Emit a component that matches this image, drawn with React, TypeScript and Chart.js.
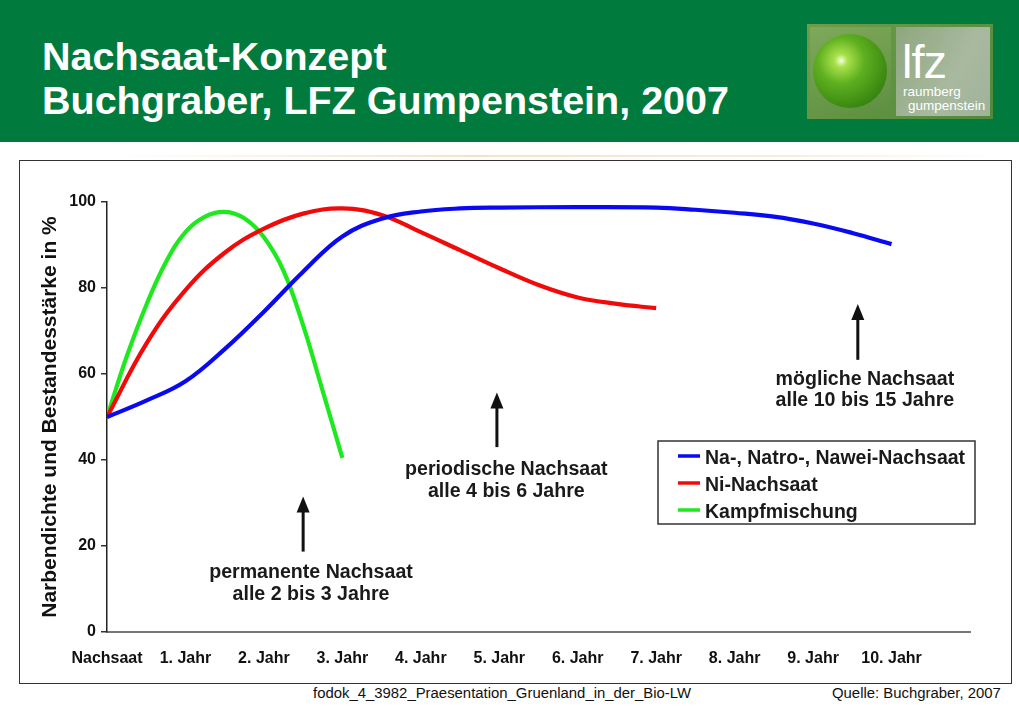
import React, { useEffect, useRef } from "react";
import { Chart, registerables } from "chart.js";
Chart.register(...registerables);

// ---- data ----
const xTickLabels = ["Nachsaat", "1. Jahr", "2. Jahr", "3. Jahr", "4. Jahr", "5. Jahr", "6. Jahr", "7. Jahr", "8. Jahr", "9. Jahr", "10. Jahr"];
const yTickValues = [0, 20, 40, 60, 80, 100];

const seriesLabels = ["Na-, Natro-, Nawei-Nachsaat", "Ni-Nachsaat", "Kampfmischung"];
const seriesColors = ["#0a0af0", "#f00a0a", "#1ee81e"];

const blueX = [0, 0.5, 1, 1.5, 2, 2.5, 3, 3.5, 4, 4.5, 5, 6, 7, 7.5, 8, 8.5, 9, 9.5, 10];
const blueY = [50, 53.8, 58.3, 65.8, 74.5, 83.8, 92, 96.1, 97.8, 98.5, 98.7, 98.8, 98.7, 98.2, 97.5, 96.6, 95, 92.8, 90.2];

const redX = [0, 0.5, 1, 1.5, 2, 2.5, 3, 3.5, 4, 4.5, 5, 5.5, 6, 6.5, 7];
const redY = [50, 67, 79.5, 88.2, 93.8, 97.3, 98.5, 97, 93, 88.8, 84.6, 80.7, 77.8, 76.3, 75.3];

const greenX = [0, 0.25, 0.5, 0.75, 1, 1.25, 1.5, 1.75, 2, 2.25, 2.5, 2.75, 3];
const greenY = [50, 64, 76, 86, 93, 96.6, 97.7, 96.2, 91.8, 84, 71.3, 56, 40.5];

// annotations (data coordinates)
const noteLines = [
  ["permanente Nachsaat", "alle 2 bis 3 Jahre"],
  ["periodische Nachsaat", "alle 4 bis 6 Jahre"],
  ["mögliche Nachsaat", "alle 10 bis 15 Jahre"],
];
const noteX = [2.6, 5.09, 9.66];
const noteY1 = [13.9, 37.7, 58.8];
const noteY2 = [8.6, 32.6, 53.7];
const arrowX = [2.5, 4.97, 9.57];
const arrowFrom = [18.7, 43, 63.3];
const arrowTo = [31.5, 55.7, 76.3];

const FONT = "Arial, 'Liberation Sans', Helvetica, sans-serif";

const overlayPlugin = {
  id: "overlay",
  afterDatasetsDraw(chart: any) {
    const { ctx, scales } = chart;
    const xs = scales.x;
    const ys = scales.y;
    ctx.save();
    // arrows
    ctx.fillStyle = "#111";
    ctx.strokeStyle = "#111";
    arrowX.forEach((ax, i) => {
      const px = xs.getPixelForValue(ax);
      const pb = ys.getPixelForValue(arrowFrom[i]);
      const pt = ys.getPixelForValue(arrowTo[i]);
      ctx.lineWidth = 3;
      ctx.beginPath();
      ctx.moveTo(px, pb);
      ctx.lineTo(px, pt + 12);
      ctx.stroke();
      ctx.beginPath();
      ctx.moveTo(px, pt);
      ctx.lineTo(px - 6.5, pt + 16);
      ctx.lineTo(px + 6.5, pt + 16);
      ctx.closePath();
      ctx.fill();
    });
    // notes
    ctx.font = `bold 19.6px ${FONT}`;
    ctx.textAlign = "center";
    ctx.textBaseline = "middle";
    ctx.fillStyle = "#1a1a1a";
    noteLines.forEach((lines, i) => {
      const px = xs.getPixelForValue(noteX[i]);
      ctx.fillText(lines[0], px, ys.getPixelForValue(noteY1[i]));
      ctx.fillText(lines[1], px, ys.getPixelForValue(noteY2[i]));
    });
    // legend box
    const bx = 638, by = 280, bw = 317, bh = 83;
    ctx.fillStyle = "#fff";
    ctx.fillRect(bx, by, bw, bh);
    ctx.lineWidth = 1.5;
    ctx.strokeStyle = "#333";
    ctx.strokeRect(bx, by, bw, bh);
    ctx.font = `bold 19.5px ${FONT}`;
    ctx.textAlign = "left";
    seriesLabels.forEach((lab, i) => {
      const rowY = by + 17 + i * 27;
      ctx.strokeStyle = seriesColors[i];
      ctx.lineWidth = 3.5;
      ctx.beginPath();
      ctx.moveTo(bx + 20, rowY - 2);
      ctx.lineTo(bx + 42, rowY - 2);
      ctx.stroke();
      ctx.fillStyle = "#1a1a1a";
      ctx.fillText(lab, bx + 47, rowY + 1);
    });
    ctx.restore();
  },
};

function ChartCanvas() {
  const ref = useRef<HTMLCanvasElement | null>(null);
  useEffect(() => {
    if (!ref.current) return;
    const mk = (xa: number[], ya: number[]) => xa.map((v, i) => ({ x: v, y: ya[i] }));
    const datasets = [mk(blueX, blueY), mk(redX, redY), mk(greenX, greenY)].map((d, i) => ({
      label: seriesLabels[i],
      data: d,
      borderColor: seriesColors[i],
      backgroundColor: seriesColors[i],
      borderWidth: 4.2,
      pointRadius: 0,
      tension: 0.4,
      fill: false,
    }));
    const chart = new Chart(ref.current, {
      type: "line",
      data: { datasets },
      options: {
        animation: false,
        responsive: false,
        maintainAspectRatio: false,
        devicePixelRatio: 1,
        layout: { padding: { left: 0, right: 40, top: 41, bottom: 0 } },
        plugins: { legend: { display: false }, tooltip: { enabled: false } },
        scales: {
          x: {
            type: "linear",
            min: 0,
            max: 11,
            afterFit: (s: any) => { s.height = 50; },
            afterBuildTicks: (s: any) => { s.ticks = xTickLabels.map((_, i) => ({ value: i })).concat([{ value: 11 }]); },
            ticks: {
              autoSkip: false,
              maxRotation: 0,
              padding: 17,
              color: "#111",
              font: { family: FONT, size: 16, weight: "bold" },
              callback: (v: any) => (xTickLabels[v] !== undefined ? xTickLabels[v] : ""),
            },
            grid: { display: true, drawOnChartArea: false, drawTicks: false },
            border: { display: true, color: "#777", width: 2 },
          },
          y: {
            min: 0,
            max: 100,
            afterFit: (s: any) => { s.width = 87; },
            afterBuildTicks: (s: any) => { s.ticks = yTickValues.map((v) => ({ value: v })); },
            ticks: {
              padding: 5,
              color: "#111",
              font: { family: FONT, size: 16, weight: "bold" },
            },
            grid: { display: true, drawOnChartArea: false, drawTicks: true, tickLength: 6, color: "#333", lineWidth: 1.5 },
            border: { display: true, color: "#222", width: 1.5 },
            title: {
              display: true,
              text: "Narbendichte und Bestandesstärke in %",
              color: "#111",
              font: { family: FONT, size: 21, weight: "bold" },
              padding: { top: 18, bottom: 0 },
            },
          },
        },
      },
      plugins: [overlayPlugin],
    });
    return () => chart.destroy();
  }, []);
  return (
    <canvas
      ref={ref}
      width={990}
      height={521}
      style={{ position: "absolute", left: 20, top: 161, width: 990, height: 521 }}
    />
  );
}

function Logo() {
  return (
    <div style={{ position: "absolute", left: 807, top: 24, width: 186, height: 95, background: "linear-gradient(135deg,#6f9c4a,#4f8a3a)" }}>
      <div style={{ position: "absolute", left: 3, top: 3, width: 81, height: 89, background: "linear-gradient(160deg,#7fa85a,#5d8f40)" }}>
        <div style={{
          position: "absolute", left: 3, top: 7, width: 74, height: 74, borderRadius: "50%",
          background: "radial-gradient(circle at 38% 36%, #f4ffe0 0%, #a8e04a 10%, #5fb020 35%, #3c8a12 70%, #2a6a0c 100%)",
        }} />
      </div>
      <div style={{ position: "absolute", left: 89, top: 3, width: 94, height: 89, background: "linear-gradient(120deg,#8ea77e,#a9b9a0 60%,#9fb29a)" }}>
        <div style={{ position: "absolute", left: 6, top: 11, color: "#fff", fontFamily: FONT, fontSize: 47, lineHeight: "47px", letterSpacing: -1 }}>lfz</div>
        <div style={{ position: "absolute", left: 7, top: 58, color: "#fff", fontFamily: FONT, fontSize: 13.5, lineHeight: "13px" }}>raumberg</div>
        <div style={{ position: "absolute", left: 12, top: 72, color: "#fff", fontFamily: FONT, fontSize: 13.5, lineHeight: "13px" }}>gumpenstein</div>
      </div>
    </div>
  );
}

export default function App() {
  return (
    <div style={{ position: "fixed", left: 0, top: 0, width: 1019, height: 712, background: "#fff", overflow: "hidden", fontFamily: FONT }}>
      <div style={{ position: "absolute", left: 0, top: 0, width: 1019, height: 142, background: "#007a3d" }} />
      <div style={{ position: "absolute", left: 42, top: 34, color: "#fff", fontFamily: FONT, fontWeight: "bold", fontSize: 39.5, lineHeight: "44px", whiteSpace: "nowrap" }}>
        <div>Nachsaat-Konzept</div>
        <div>Buchgraber, LFZ Gumpenstein, 2007</div>
      </div>
      <Logo />
      <div style={{ position: "absolute", left: 120, top: 155, width: 880, height: 2, background: "linear-gradient(to right, rgba(255,255,255,0), rgba(240,200,150,0.55) 40%, rgba(240,200,150,0.35) 75%, rgba(255,255,255,0))" }} />
      <div style={{ position: "absolute", left: 19, top: 160, width: 993, height: 524, border: "1.5px solid #333", boxSizing: "border-box" }} />
      <ChartCanvas />
      <div style={{ position: "absolute", left: 313, top: 686, color: "#111", fontSize: 14.9, lineHeight: "15px", whiteSpace: "nowrap" }}>fodok_4_3982_Praesentation_Gruenland_in_der_Bio-LW</div>
      <div style={{ position: "absolute", left: 832, top: 686, color: "#111", fontSize: 14.9, lineHeight: "15px", whiteSpace: "nowrap" }}>Quelle: Buchgraber, 2007</div>
    </div>
  );
}
